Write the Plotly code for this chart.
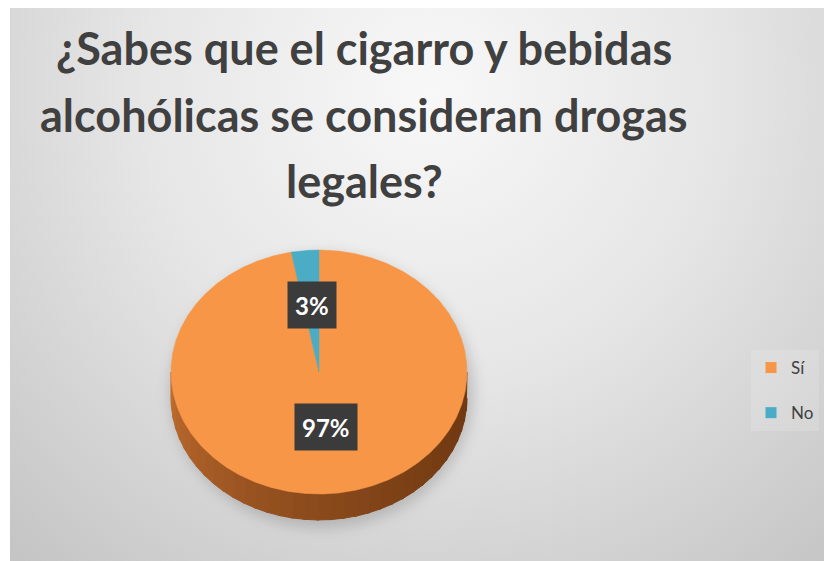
import base64
import numpy as np
import plotly.graph_objects as go

# ---- data ----
labels = ["Sí", "No"]
values = [97, 3]
colors = ["#F79646", "#4BACC6"]
title_lines = ["¿Sabes que el cigarro y bebidas", "alcohólicas se consideran drogas", "legales?"]

# ---- geometry / style constants (screen pixels) ----
SW, SH = 832, 561          # browser window
OX, OY = 8, 8              # page body margin
W, H = SW - OX, SH - OY    # figure size
cx, cy, rx, ry, depth = 319, 372, 148, 122, 26
FONT = "Lato"

def px(sx):
    return (sx - OX) / W

def py(sy):
    return 1 - (sy - OY) / H

def pt(theta_deg, r=1.0, dy=0.0):
    t = np.radians(theta_deg)
    return cx + rx * r * np.sin(t), cy - ry * r * np.cos(t) + dy

total = float(sum(values))
bounds = np.concatenate([[0], np.cumsum(values)]) / total * 360.0

fig = go.Figure()

def shade(theta):
    # left (270) lighter, right (90) darker
    f = ((theta - 90) / 180.0) ** 1.6
    c0 = np.array([0x70, 0x39, 0x12])
    c1 = np.array([0xc2, 0x6e, 0x30])
    c = c0 + (c1 - c0) * f
    return "rgb(%d,%d,%d)" % tuple(c.astype(int))

# side walls (front half only: 90..270 deg)
for i, (a0, a1) in enumerate(zip(bounds[:-1], bounds[1:])):
    lo, hi = max(a0, 90), min(a1, 270)
    if hi <= lo:
        continue
    n = 36
    edges = np.linspace(lo, hi, n + 1)
    for s0, s1 in zip(edges[:-1], edges[1:]):
        ts = np.linspace(s0, min(s1 + 1.0, hi), 5)
        xt, yt = pt(ts)
        xb, yb = pt(ts[::-1], dy=depth)
        col = shade((s0 + s1) / 2) if i == 0 else "#2f7f95"
        fig.add_trace(go.Scatter(
            x=np.concatenate([xt, xb]), y=np.concatenate([yt, yb]),
            fill="toself", fillcolor=col, mode="lines",
            line=dict(width=1, color=col), hoverinfo="skip", showlegend=False))

# top faces
for i, (a0, a1) in enumerate(zip(bounds[:-1], bounds[1:])):
    ts = np.linspace(a0, a1, max(4, int((a1 - a0) * 2)))
    xa, ya = pt(ts)
    fig.add_trace(go.Scatter(
        x=np.concatenate([[cx], xa, [cx]]), y=np.concatenate([[cy], ya, [cy]]),
        fill="toself", fillcolor=colors[i], mode="lines",
        line=dict(width=0.5, color=colors[i]),
        name=labels[i], hoverinfo="skip", showlegend=False))

# legend entries
for i, lab in enumerate(labels):
    fig.add_trace(go.Scatter(
        x=[None], y=[None], mode="markers", name=lab, legendgroup=lab,
        marker=dict(symbol="square", size=11, color=colors[i])))

# data labels
annotations = []
for i, (a0, a1) in enumerate(zip(bounds[:-1], bounds[1:])):
    mid = (a0 + a1) / 2
    lx, ly = pt(mid, r=0.5, dy=-6)
    annotations.append(dict(
        x=lx, y=ly, xref="x", yref="y", showarrow=False,
        text="<b>%d%%</b>" % round(values[i] / total * 100),
        font=dict(family=FONT, size=24, color="white"),
        height=32, valign="middle",
        bgcolor="#3b3b3b", borderpad=7))

# chart title (one line per annotation to match line spacing)
for k, (line, yc) in enumerate(zip(title_lines, [48, 115, 181])):
    annotations.append(dict(
        x=364, y=yc, xref="x", yref="y", xanchor="center", yanchor="middle",
        showarrow=False, text="<b>" + line + "</b>",
        font=dict(family=FONT, size=45, color="#404040")))

# background (radial gradient + pie shadow), drawn in screen coordinates
svg = f'''<svg xmlns="http://www.w3.org/2000/svg" width="{W}" height="{H}" viewBox="{OX} {OY} {W} {H}" preserveAspectRatio="none">
<defs>
<radialGradient id="g" gradientUnits="userSpaceOnUse" cx="430" cy="90" r="640">
<stop offset="0" stop-color="#f8f8f8"/>
<stop offset="0.45" stop-color="#e6e6e6"/>
<stop offset="1" stop-color="#c3c3c3"/>
</radialGradient>
<filter id="b" x="-30%" y="-30%" width="160%" height="160%"><feGaussianBlur stdDeviation="7"/></filter>
</defs>
<rect x="0" y="0" width="{SW}" height="{SH}" fill="#ffffff"/>
<rect x="10" y="6" width="{SW-10}" height="{SH-6}" fill="url(#g)"/>
<ellipse cx="{cx+3}" cy="{cy+depth/2+6}" rx="{rx+4}" ry="{ry+depth/2+2}" fill="#000" fill-opacity="0.16" filter="url(#b)"/>
</svg>'''
src = "data:image/svg+xml;base64," + base64.b64encode(svg.encode()).decode()

fig.update_layout(
    width=W, height=H,
    margin=dict(l=0, r=0, t=0, b=0),
    paper_bgcolor="white", plot_bgcolor="rgba(0,0,0,0)",
    images=[dict(source=src, xref="paper", yref="paper", x=0, y=1,
                 sizex=1, sizey=1, sizing="stretch", layer="below")],
    xaxis=dict(range=[OX, SW], visible=False, fixedrange=True, domain=[0, 1]),
    yaxis=dict(range=[SH, OY], visible=False, fixedrange=True, domain=[0, 1]),
    legend=dict(x=px(751), y=py(350), xanchor="left", yanchor="top",
                traceorder="grouped", tracegroupgap=20,
                bgcolor="rgba(255,255,255,0.15)",
                font=dict(family=FONT, size=17, color="#404040")),
    annotations=annotations,
    showlegend=True,
)

fig.write_html("out.html")
